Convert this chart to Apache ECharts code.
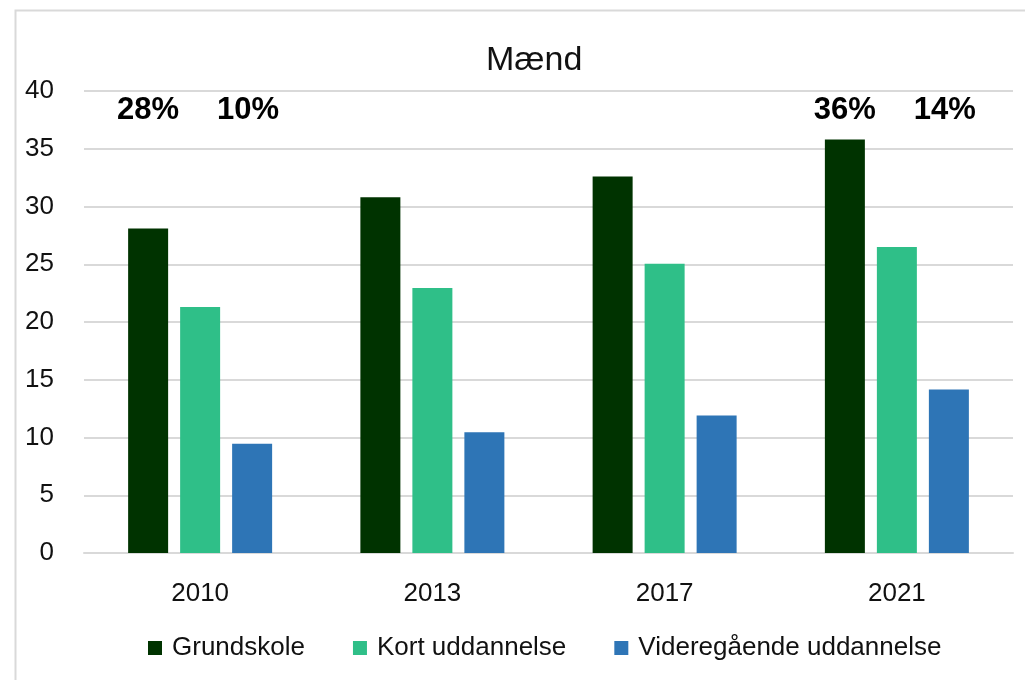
<!DOCTYPE html>
<html>
<head>
<meta charset="utf-8">
<script src="https://cdn.jsdelivr.net/npm/echarts@6/dist/echarts.min.js"></script>
<style>
html,body{margin:0;padding:0;background:#fff;}
#chart{width:1025px;height:680px;}
</style>
</head>
<body>
<div id="chart"></div>
<script>
const titleText = 'Mænd';
const categories = ['2010', '2013', '2017', '2021'];
const seriesNames = ['Grundskole', 'Kort uddannelse', 'Videregående uddannelse'];
const grundskole = [28.1, 30.8, 32.6, 35.8];
const kortUddannelse = [21.3, 22.95, 25.05, 26.5];
const videregaaende = [9.45, 10.45, 11.9, 14.15];
const grundskoleLabels = ['28%', null, null, '36%'];
const videregaaendeLabels = ['10%', null, null, '14%'];
const yTicks = [0, 5, 10, 15, 20, 25, 30, 35, 40];

const colors = ['#003300', '#2fbf88', '#2e75b6'];
const FONT = '"Liberation Sans", Arial, sans-serif';
const LABEL_LEVEL = 38.35;

function marks(labels, dx) {
  const data = [];
  labels.forEach(function (t, i) {
    if (t) data.push({ coord: [categories[i], LABEL_LEVEL], value: t });
  });
  return {
    symbol: 'rect',
    symbolSize: 1,
    itemStyle: { color: 'rgba(0,0,0,0)' },
    label: {
      show: true,
      position: 'inside',
      offset: [dx, 0],
      formatter: function (p) { return p.value; },
      fontSize: 31,
      fontWeight: 'bold',
      color: '#000',
      fontFamily: FONT
    },
    data: data
  };
}

const chart = echarts.init(document.getElementById('chart'), null, { renderer: 'canvas' });
const values = [grundskole, kortUddannelse, videregaaende];
const option = {
  animation: false,
  backgroundColor: '#fff',
  graphic: [{
    type: 'rect',
    shape: { x: 15.5, y: 10.5, width: 1100, height: 800 },
    style: { fill: 'none', stroke: '#d9d9d9', lineWidth: 2 },
    silent: true
  }],
  title: {
    text: titleText,
    left: 481,
    top: 39,
    textStyle: { fontFamily: FONT, fontSize: 34, fontWeight: 'normal', color: '#111' }
  },
  legend: {
    data: seriesNames,
    left: 143,
    top: 630,
    itemWidth: 14,
    itemHeight: 14,
    itemGap: 48,
    icon: 'rect',
    textStyle: { fontFamily: FONT, fontSize: 26, color: '#111', padding: [0, 0, 0, 5] }
  },
  grid: { left: 84, right: 12, top: 91, bottom: 127 },
  xAxis: {
    type: 'category',
    data: categories,
    axisLine: { lineStyle: { color: '#d9d9d9', width: 2 } },
    axisTick: { show: false },
    axisLabel: { fontFamily: FONT, fontSize: 26, color: '#111', margin: 28 }
  },
  yAxis: {
    type: 'value',
    min: yTicks[0],
    max: yTicks[yTicks.length - 1],
    interval: yTicks[1] - yTicks[0],
    axisLine: { show: false },
    axisTick: { show: false },
    splitLine: { lineStyle: { color: '#d9d9d9', width: 2 } },
    axisLabel: { fontFamily: FONT, fontSize: 26, color: '#111', margin: 30 }
  },
  series: seriesNames.map(function (name, i) {
    const s = {
      name: name,
      type: 'bar',
      data: values[i],
      barWidth: 40,
      barGap: '30%',
      itemStyle: { color: colors[i] }
    };
    if (i === 0) s.markPoint = marks(grundskoleLabels, 0);
    if (i === 2) s.markPoint = marks(videregaaendeLabels, -4);
    return s;
  })
};
chart.setOption(option);
</script>
</body>
</html>
